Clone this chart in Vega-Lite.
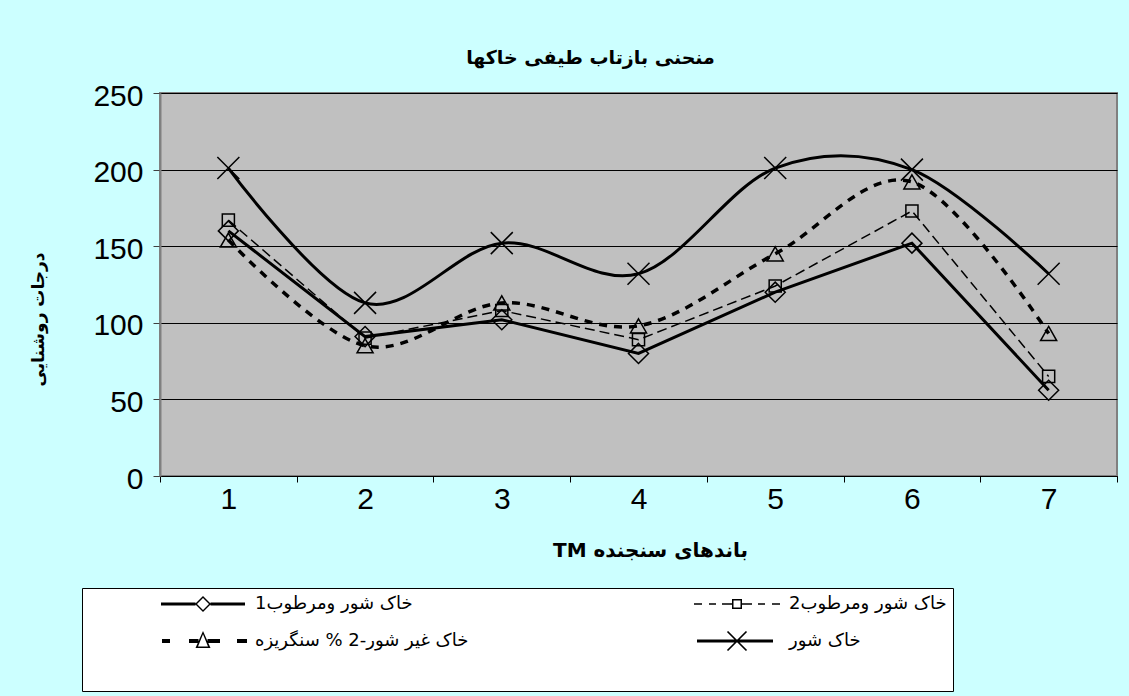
{
  "$schema": "https://vega.github.io/schema/vega-lite/v6.json",
  "width": 957,
  "height": 383,
  "autosize": "none",
  "padding": {"left": 160, "top": 93, "right": 12, "bottom": 220},
  "background": "#CCFFFF",
  "title": {
    "text": "منحنی بازتاب طیفی خاکها",
    "font": "DejaVu Sans",
    "fontSize": 19,
    "fontWeight": "bold",
    "color": "black",
    "anchor": "middle",
    "dx": -48,
    "offset": -6,
    "baseline": "bottom"
  },
  "config": {
    "view": {"fill": "#C0C0C0", "stroke": "#808080", "strokeWidth": 2}
  },
  "data": {
    "values": [
      {"band": 1, "series": "خاک شور ومرطوب1", "value": 160},
      {"band": 2, "series": "خاک شور ومرطوب1", "value": 91},
      {"band": 3, "series": "خاک شور ومرطوب1", "value": 102},
      {"band": 4, "series": "خاک شور ومرطوب1", "value": 80},
      {"band": 5, "series": "خاک شور ومرطوب1", "value": 120},
      {"band": 6, "series": "خاک شور ومرطوب1", "value": 152},
      {"band": 7, "series": "خاک شور ومرطوب1", "value": 56},
      {"band": 1, "series": "خاک شور ومرطوب2", "value": 167},
      {"band": 2, "series": "خاک شور ومرطوب2", "value": 90},
      {"band": 3, "series": "خاک شور ومرطوب2", "value": 108},
      {"band": 4, "series": "خاک شور ومرطوب2", "value": 89},
      {"band": 5, "series": "خاک شور ومرطوب2", "value": 124},
      {"band": 6, "series": "خاک شور ومرطوب2", "value": 173},
      {"band": 7, "series": "خاک شور ومرطوب2", "value": 65},
      {"band": 1, "series": "خاک غیر شور-2 % سنگریزه", "value": 154},
      {"band": 2, "series": "خاک غیر شور-2 % سنگریزه", "value": 85},
      {"band": 3, "series": "خاک غیر شور-2 % سنگریزه", "value": 113},
      {"band": 4, "series": "خاک غیر شور-2 % سنگریزه", "value": 98},
      {"band": 5, "series": "خاک غیر شور-2 % سنگریزه", "value": 145},
      {"band": 6, "series": "خاک غیر شور-2 % سنگریزه", "value": 192},
      {"band": 7, "series": "خاک غیر شور-2 % سنگریزه", "value": 93},
      {"band": 1, "series": "خاک شور", "value": 201},
      {"band": 2, "series": "خاک شور", "value": 113},
      {"band": 3, "series": "خاک شور", "value": 152},
      {"band": 4, "series": "خاک شور", "value": 132},
      {"band": 5, "series": "خاک شور", "value": 201},
      {"band": 6, "series": "خاک شور", "value": 200},
      {"band": 7, "series": "خاک شور", "value": 132}
    ]
  },
  "encoding": {
    "x": {
      "field": "band",
      "type": "ordinal",
      "scale": {"type": "band", "paddingInner": 0, "paddingOuter": 0},
      "axis": {
        "title": "TM باندهای سنجنده",
        "labelAngle": 0,
        "tickBand": "extent",
        "grid": false,
        "labelFont": "Liberation Sans",
        "labelFontSize": 30,
        "labelColor": "black",
        "labelPadding": 2,
        "tickSize": 6,
        "tickColor": "black",
        "domainColor": "black",
        "domainWidth": 1,
        "titleFont": "DejaVu Sans",
        "titleFontSize": 20,
        "titleFontWeight": "bold",
        "titleColor": "black",
        "titlePadding": 26,
        "titleX": 490,
        "titleAlign": "center"
      }
    },
    "y": {
      "field": "value",
      "type": "quantitative",
      "scale": {"domain": [0, 250]},
      "axis": {
        "title": "درجات روشنایی",
        "values": [0, 50, 100, 150, 200, 250],
        "grid": true,
        "gridColor": "black",
        "gridWidth": 1,
        "gridOpacity": 1,
        "labelFont": "Liberation Sans",
        "labelFontSize": 30,
        "labelColor": "black",
        "labelPadding": 10,
        "labelOffset": 3,
        "tickSize": 7,
        "tickColor": "#404040",
        "domainColor": "#808080",
        "domainWidth": 2,
        "titleFont": "DejaVu Sans",
        "titleFontSize": 17,
        "titleFontWeight": "bold",
        "titleColor": "black",
        "titleX": -122,
        "titleY": 226,
        "titleAngle": 270,
        "titleAlign": "center",
        "titleBaseline": "middle"
      }
    }
  },
  "layer": [
    {
      "transform": [{"filter": {"field": "series", "equal": "خاک شور ومرطوب2"}}],
      "mark": {"type": "line", "color": "black", "interpolate": "linear", "strokeWidth": 1.5, "strokeDash": [10, 5]}
    },
    {
      "transform": [{"filter": {"field": "series", "equal": "خاک غیر شور-2 % سنگریزه"}}],
      "mark": {"type": "line", "color": "black", "interpolate": "cardinal", "strokeWidth": 3.5, "strokeDash": [8, 7]}
    },
    {
      "transform": [{"filter": {"field": "series", "equal": "خاک شور ومرطوب1"}}],
      "mark": {"type": "line", "color": "black", "interpolate": "linear", "strokeWidth": 3}
    },
    {
      "transform": [{"filter": {"field": "series", "equal": "خاک شور"}}],
      "mark": {"type": "line", "color": "black", "interpolate": "cardinal", "strokeWidth": 3}
    },
    {
      "transform": [{"filter": {"field": "series", "equal": "خاک شور ومرطوب1"}}],
      "mark": {"type": "point", "filled": false, "color": "black", "strokeWidth": 1.5, "size": 484, "opacity": 1, "shape": "M0,-0.91L0.91,0L0,0.91L-0.91,0Z"}
    },
    {
      "transform": [{"filter": {"field": "series", "equal": "خاک شور ومرطوب2"}}],
      "mark": {"type": "point", "filled": false, "color": "black", "strokeWidth": 1.5, "size": 484, "opacity": 1, "shape": "M-0.55,-0.55H0.55V0.55H-0.55Z"}
    },
    {
      "transform": [{"filter": {"field": "series", "equal": "خاک غیر شور-2 % سنگریزه"}}],
      "mark": {"type": "point", "filled": false, "color": "black", "strokeWidth": 1.5, "size": 484, "opacity": 1, "shape": "M0,-0.64L0.73,0.64L-0.73,0.64Z"}
    },
    {
      "transform": [{"filter": {"field": "series", "equal": "خاک شور"}}],
      "mark": {"type": "point", "filled": false, "color": "black", "strokeWidth": 1.5, "size": 484, "opacity": 1, "shape": "M-1,-1L1,1M-1,1L1,-1"}
    },
    {
      "transform": [{"filter": "datum.band > 100"}],
      "mark": {"type": "point", "filled": true, "color": "black", "size": 400, "opacity": 1},
      "encoding": {
        "shape": {
          "field": "series", "type": "nominal",
          "scale": {
            "domain": ["خاک شور ومرطوب1", "خاک شور ومرطوب2", "خاک غیر شور-2 % سنگریزه", "خاک شور"],
            "range": [
              "M-4.2,-0.15H-0.75V0.15H-4.2ZM0.75,-0.15H4.2V0.15H0.75ZM0,-0.8L0.8,0L0,0.8L-0.8,0ZM0,-0.6L-0.6,0L0,0.6L0.6,0Z",
              "M-4.3,-0.075H-3.5V0.075H-4.3ZM-2.8,-0.075H-2.1V0.075H-2.8ZM-1.5,-0.075H-0.5V0.075H-1.5ZM0.5,-0.075H1.5V0.075H0.5ZM2.1,-0.075H2.8V0.075H2.1ZM3.5,-0.075H4.3V0.075H3.5ZM-0.5,-0.5H0.5V0.5H-0.5ZM-0.35,-0.35V0.35H0.35V-0.35Z",
              "M-4.1,-0.2H-3.3V0.2H-4.1ZM-1.4,-0.2H-0.45V0.2H-1.4ZM0.45,-0.2H1.7V0.2H0.45ZM3.4,-0.2H4.4V0.2H3.4ZM0,-1L0.75,0.7L-0.75,0.7ZM0,-0.68L-0.5,0.55L0.5,0.55Z",
              "M-4,-0.15V0.15H3.6V-0.15ZM-1.01,-0.89L0.89,1.01L1.01,0.89L-0.89,-1.01ZM-0.89,1.01L1.01,-0.89L0.89,-1.01L-1.01,0.89Z"
            ]
          },
          "legend": {
            "title": [" ", " ", " ", " "],
            "titleOrient": "left",
            "titleFontSize": 16,
            "titleLineHeight": 25,
            "titlePadding": 105,
            "titleBaseline": "top",
            "titleAnchor": "start",
            "orient": "none",
            "direction": "horizontal",
            "legendX": -78,
            "legendY": 495,
            "columns": 2,
            "columnPadding": 225,
            "rowPadding": 17,
            "padding": 6,
            "fillColor": "white",
            "strokeColor": "black",
            "labelFont": "DejaVu Sans",
            "labelFontSize": 18,
            "labelColor": "black",
            "labelOffset": 42,
            "labelLimit": 400,
            "symbolSize": 400,
            "symbolOpacity": 1,
            "symbolStrokeWidth": 0,
            "symbolFillColor": "black"
          }
        }
      }
    }
  ]
}
